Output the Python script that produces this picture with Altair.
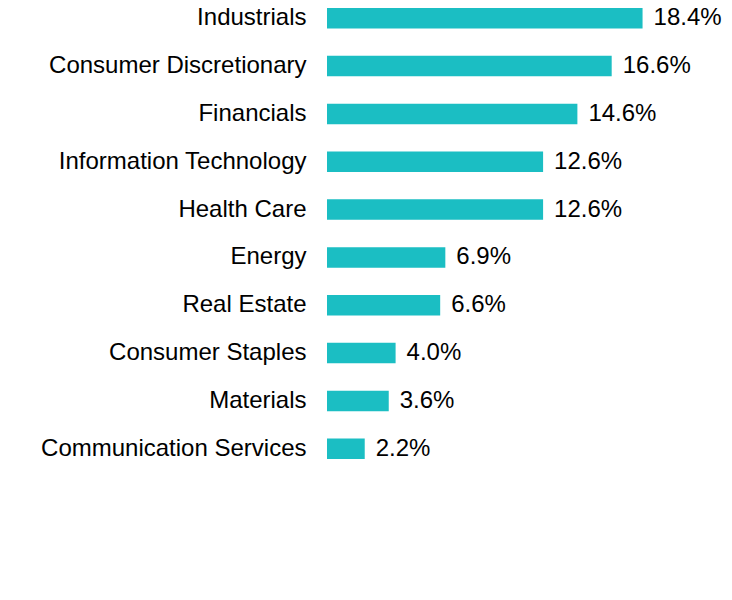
import altair as alt
import pandas as pd

categories = ["Industrials", "Consumer Discretionary", "Financials", "Information Technology",
              "Health Care", "Energy", "Real Estate", "Consumer Staples", "Materials",
              "Communication Services"]
values = [18.4, 16.6, 14.6, 12.6, 12.6, 6.9, 6.6, 4.0, 3.6, 2.2]
labels = [f"{v:.1f}%" for v in values]

df = pd.DataFrame({"sector": categories, "value": values, "label": labels})

y = alt.Y("sector:N", sort=categories, title=None,
          scale=alt.Scale(paddingInner=0.571, paddingOuter=0),
          axis=alt.Axis(labelFontSize=24, labelFont="Liberation Sans", labelColor="black",
                        labelPadding=21, ticks=False, domain=False, labelLimit=400, grid=False))
x = alt.X("value:Q", scale=alt.Scale(domain=[0, 20]), axis=None)

bars = alt.Chart(df).mark_bar(color="#1bbec3").encode(x=x, y=y)
text = alt.Chart(df).mark_text(align="left", baseline="middle", dx=11, fontSize=24,
                               font="Liberation Sans", color="black").encode(x=x, y=y, text="label:N")

chart = (bars + text).properties(
    width=343, height=451,
    padding={"left": 319, "top": 0, "right": 54, "bottom": 133},
    autosize=alt.AutoSizeParams(type="none"),
).configure_view(stroke=None)

chart.save("out.html", embed_options={"renderer": "svg", "actions": False})
